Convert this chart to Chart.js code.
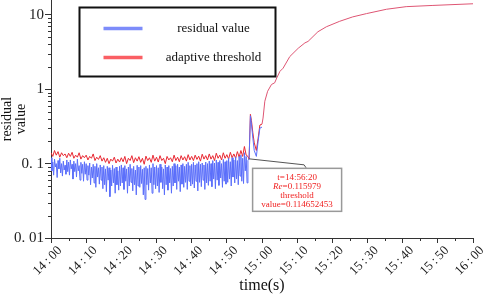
<!DOCTYPE html>
<html><head><meta charset="utf-8">
<script src="https://cdn.jsdelivr.net/npm/chart.js@4/dist/chart.umd.min.js"></script>
<style>html,body{margin:0;padding:0;background:#fff;}</style>
</head><body>
<canvas id="c" width="484" height="294"></canvas>
<script>
// ---- data (time in minutes after 14:00) ----
const startHour = 14;
const residualStep = 0.25;  // minutes between samples of the noisy residual
const thresholdStep = 0.5;  // minutes between samples of the noisy threshold
const residualNoise = [
  0.12,0.08,0.105,0.07,0.115,0.09,0.1,0.065,0.11,0.085,0.118,0.075,0.1,0.068,0.108,0.082,0.095,0.072,0.112,0.078,
  0.105,0.07,0.112,0.085,0.098,0.062,0.108,0.078,0.1,0.066,0.115,0.08,0.094,0.06,0.104,0.074,0.098,0.058,0.106,0.072,
  0.1,0.06,0.094,0.07,0.102,0.052,0.09,0.064,0.098,0.055,0.092,0.048,0.1,0.066,0.088,0.053,0.096,0.06,0.09,0.046,
  0.094,0.052,0.085,0.042,0.092,0.06,0.088,0.036,0.082,0.05,0.095,0.055,0.086,0.04,0.09,0.052,0.08,0.044,0.092,0.05,
  0.096,0.055,0.088,0.045,0.094,0.058,0.085,0.04,0.09,0.05,0.098,0.056,0.086,0.043,0.092,0.052,0.082,0.038,0.095,0.05,
  0.09,0.048,0.094,0.054,0.084,0.038,0.088,0.033,0.092,0.052,0.086,0.044,0.096,0.055,0.088,0.04,0.1,0.052,0.09,0.046,
  0.094,0.05,0.088,0.041,0.098,0.056,0.09,0.046,0.085,0.038,0.096,0.052,0.09,0.044,0.094,0.055,0.086,0.04,0.092,0.05,
  0.1,0.055,0.094,0.045,0.098,0.058,0.09,0.042,0.096,0.053,0.1,0.048,0.092,0.056,0.098,0.045,0.104,0.058,0.094,0.05,
  0.098,0.053,0.104,0.047,0.096,0.058,0.1,0.043,0.106,0.056,0.098,0.049,0.102,0.06,0.096,0.045,0.105,0.055,0.1,0.051,
  0.108,0.058,0.1,0.049,0.11,0.062,0.102,0.046,0.112,0.06,0.104,0.051,0.11,0.064,0.1,0.048,0.114,0.058,0.106,0.053,
  0.11,0.056,0.118,0.062,0.106,0.05,0.12,0.066,0.112,0.055,0.122,0.062,0.11,0.052,0.125,0.068,0.13,0.058,0.118,0.054,
  0.14,0.08,0.125,0.055,0.11
];
const thresholdNoise = [
  0.14,0.125,0.15,0.13,0.145,0.122,0.14,0.128,0.135,0.12,
  0.138,0.125,0.142,0.118,0.13,0.122,0.14,0.115,0.128,0.12,
  0.13,0.112,0.125,0.118,0.135,0.11,0.122,0.114,0.128,0.108,
  0.12,0.104,0.118,0.1,0.115,0.108,0.122,0.102,0.115,0.105,
  0.12,0.106,0.125,0.1,0.118,0.11,0.128,0.103,0.12,0.108,
  0.124,0.104,0.118,0.098,0.126,0.11,0.12,0.104,0.13,0.108,
  0.122,0.105,0.128,0.11,0.118,0.1,0.125,0.112,0.12,0.106,
  0.13,0.11,0.122,0.106,0.128,0.112,0.124,0.108,0.132,0.112,
  0.125,0.11,0.13,0.114,0.126,0.108,0.134,0.115,0.128,0.112,
  0.135,0.115,0.128,0.11,0.138,0.118,0.13,0.112,0.14,0.118,
  0.132,0.115,0.142,0.12,0.135,0.118,0.145,0.122,0.15,0.125,
  0.17,0.13,0.125
];
const residualTailTimes = [56.333,56.7,57.0,57.4,57.8,58.4,58.9,59.4,60.0];
const residualTail      = [0.115979,0.44,0.34,0.22,0.15,0.125,0.2,0.3,0.31];
const thresholdTailTimes = [56.333,56.7,57.0,57.4,57.8,58.4,58.9,59.4,60.0,60.3,60.8,61.6,62.7,63.6,64.2,65.1,66.0,67.9,70.3,72.2,73.1,75.9,78.3,82.1,85.8,89.7,95.4,101.0,108.6,120];
const thresholdTail      = [0.114652453,0.46,0.38,0.26,0.19,0.15,0.22,0.33,0.34,0.41,0.69,0.94,1.16,1.22,1.42,1.74,1.92,2.75,3.56,4.2,4.4,5.93,6.92,8.2,9.4,10.4,11.9,12.9,13.4,14.1];

const seriesNames = ['residual value','adaptive threshold'];
const xTickValues = [0,10,20,30,40,50,60,70,80,90,100,110,120];
const xMinorTicks = [5,15,25,35,45,55,65,75,85,95,105,115];
const yTickValues = [0.01,0.1,1,10];
const yTickLabels = ['0. 01','0. 1','1','10'];
const markTime = 56 + 20/60;
const markRe = 0.115979;
const markLines = ['t=14:56:20','Re=0.115979','threshold','value=0.114652453'];

// ---- build tables ----
function build(noise, step, tailT, tailV){
  const pts = noise.map((v,i)=>({x:i*step, y:v}));
  tailT.forEach((t,i)=>pts.push({x:t, y:tailV[i]}));
  return pts;
}
const residualPts = build(residualNoise, residualStep, residualTailTimes, residualTail);
const thresholdPts = build(thresholdNoise, thresholdStep, thresholdTailTimes, thresholdTail);

function fmtTime(m){
  const h = startHour + Math.floor(m/60);
  const mm = Math.round(m%60);
  return h + '\u2009:\u2009' + (mm<10?'0':'') + mm;
}

const SERIF = "'Liberation Serif','Times New Roman',serif";
const BLUE = 'rgb(90,110,250)';
const RED = 'rgb(232,40,50)';
const RED_TAIL = 'rgb(222,85,115)';

const overlay = {
  id:'overlay',
  afterDraw(chart){
    const ctx = chart.ctx;
    const xs = chart.scales.x, ys = chart.scales.y;
    const ca = chart.chartArea;
    ctx.save();
    // minor ticks
    ctx.strokeStyle = '#333'; ctx.lineWidth = 1;
    ctx.beginPath();
    xMinorTicks.forEach(v=>{
      const px = Math.round(xs.getPixelForValue(v))+0.5;
      ctx.moveTo(px, ca.bottom); ctx.lineTo(px, ca.bottom+3);
    });
    yTickValues.forEach(d=>{
      for(let k=2;k<=9;k++){
        const v = d*k;
        if (v > ys.max) continue;
        const py = Math.round(ys.getPixelForValue(v))+0.5;
        ctx.moveTo(ca.left-3, py); ctx.lineTo(ca.left, py);
      }
    });
    ctx.stroke();

    // legend box
    const lx = 79.5, ly = 7.5, lw = 196, lh = 69;
    ctx.lineWidth = 2; ctx.strokeStyle = '#111';
    ctx.strokeRect(lx, ly, lw, lh);
    const ds = chart.data.datasets;
    const rows = [28.5, 57.5];
    const legendColors = ['rgb(125,140,250)','rgb(250,95,100)'];
    ds.forEach((d,i)=>{
      ctx.strokeStyle = legendColors[i]; ctx.lineWidth = 3.5;
      ctx.beginPath(); ctx.moveTo(lx+24, rows[i]); ctx.lineTo(lx+63, rows[i]); ctx.stroke();
      ctx.fillStyle = '#111';
      ctx.font = '13px ' + SERIF;
      ctx.textAlign = 'center'; ctx.textBaseline = 'middle';
      ctx.fillText(d.label, lx+134, rows[i]);
    });

    // annotation
    const px = xs.getPixelForValue(markTime), py = ys.getPixelForValue(markRe);
    ctx.strokeStyle = '#555'; ctx.lineWidth = 1;
    ctx.beginPath();
    ctx.moveTo(px, py); ctx.lineTo(px+55, py+6); ctx.lineTo(px+57, py+9);
    ctx.stroke();
    const bx = px+3.5, by = py+9.5, bw = 89, bh = 43;
    ctx.fillStyle = '#fff';
    ctx.fillRect(bx, by, bw, bh);
    ctx.strokeStyle = '#999'; ctx.lineWidth = 1.5;
    ctx.strokeRect(bx, by, bw, bh);
    ctx.fillStyle = 'rgb(240,30,30)';
    ctx.textBaseline = 'middle';
    const cx = bx + bw/2;
    markLines.forEach((t,i)=>{
      const ty = by + 9 + i*9;
      if (t.startsWith('Re')) {
        const it = 'italic 9px ' + SERIF, nf = '9px ' + SERIF;
        ctx.font = it; const w1 = ctx.measureText('Re').width;
        ctx.font = nf; const w2 = ctx.measureText(t.slice(2)).width;
        const sx = cx - (w1+w2)/2;
        ctx.textAlign = 'left';
        ctx.font = it; ctx.fillText('Re', sx, ty);
        ctx.font = nf; ctx.fillText(t.slice(2), sx+w1, ty);
      } else {
        ctx.font = '9px ' + SERIF; ctx.textAlign = 'center';
        ctx.fillText(t, cx, ty);
      }
    });
    ctx.restore();
  }
};

new Chart(document.getElementById('c'), {
  type:'line',
  data:{ datasets:[
    {label:seriesNames[0], data:residualPts, borderColor:BLUE, borderWidth:1, pointRadius:0, tension:0},
    {label:seriesNames[1], data:thresholdPts, borderColor:RED, borderWidth:1, pointRadius:0, tension:0,
      segment:{borderColor:c=>(c.p0.parsed.x >= 60 ? RED_TAIL : undefined)}}
  ]},
  options:{
    responsive:false, animation:false, devicePixelRatio:1,
    layout:{padding:{left:0,right:11,top:0,bottom:0}},
    plugins:{legend:{display:false}, tooltip:{enabled:false}},
    scales:{
      x:{
        type:'linear', min:0, max:120, position:'bottom',
        afterBuildTicks:s=>{ s.ticks = xTickValues.map(v=>({value:v})); },
        afterFit:s=>{ s.height = 56; s.paddingLeft = 0; s.paddingRight = 0; },
        ticks:{autoSkip:false, maxRotation:45, minRotation:45, padding:0, labelOffset:9,
          color:'#222', font:{family:SERIF, size:13}, callback:v=>fmtTime(v)},
        grid:{display:true, drawOnChartArea:false, drawTicks:true, tickLength:5, color:'#333'},
        border:{display:true, color:'#333', width:1},
        title:{display:true, text:'time(s)', color:'#111', font:{family:SERIF, size:16, lineHeight:1}, padding:{top:0,bottom:0}}
      },
      y:{
        type:'logarithmic', min:0.01, max:15.85,
        afterBuildTicks:s=>{ s.ticks = yTickValues.map(v=>({value:v, major:true})); },
        afterFit:s=>{ s.width = 51; s.paddingTop = 0; s.paddingBottom = 0; },
        ticks:{autoSkip:false, padding:1, color:'#222', font:{family:SERIF, size:15},
          callback:v=>{ const i = yTickValues.indexOf(v); return i>=0 ? yTickLabels[i] : ''; }},
        grid:{display:true, drawOnChartArea:false, drawTicks:true, tickLength:6, color:'#333'},
        border:{display:true, color:'#333', width:1},
        title:{display:true, text:['residual','value'], color:'#111', font:{family:SERIF, size:14, lineHeight:1.03}, padding:{top:0,bottom:0}}
      }
    }
  },
  plugins:[overlay]
});
</script>
</body></html>
